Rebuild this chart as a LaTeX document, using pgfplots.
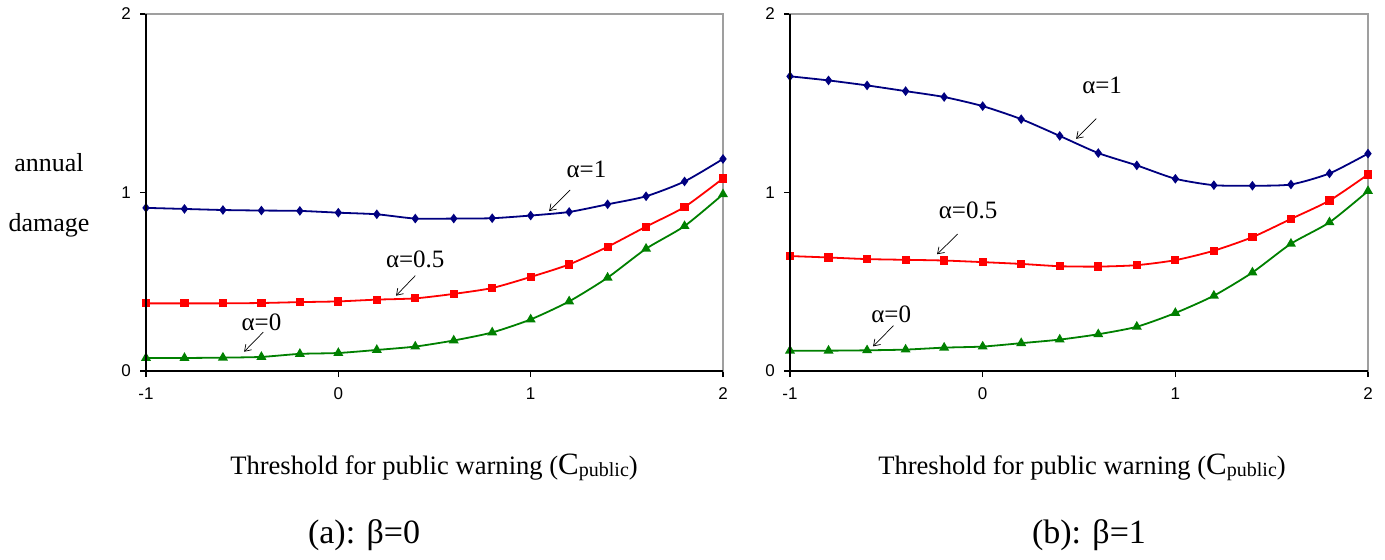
\documentclass[border=0pt]{standalone}
\usepackage{fontspec}
\setmainfont{Liberation Serif}
\newfontfamily\arial{Liberation Sans}
\usepackage{pgfplots}
\pgfplotsset{compat=1.18}
\usetikzlibrary{arrows.meta}

\definecolor{navy}{RGB}{0,0,128}
\definecolor{dgreen}{RGB}{0,128,0}

\pgfplotsset{panel/.style={
    scale only axis, width=288.5pt, height=178.5pt,
    xmin=-1, xmax=2, ymin=0, ymax=2,
    xtick={-1,0,1,2}, ytick={0,1,2},
    tick pos=left, tick align=outside, major tick length=3pt,
    axis line style={gray!75, line width=0.6pt},
    tick style={black, line width=0.6pt},
    ticklabel style={font=\arial\fontsize{8.5}{10}\selectfont},
    xticklabel style={yshift=-2pt},
    yticklabel style={xshift=-1pt},
    /pgf/number format/assume math mode=true,
    clip=false,
    every axis plot/.append style={smooth, tension=0.4, line width=0.9pt},
    after end axis/.code={
      \draw[black, line width=0.7pt] (rel axis cs:0,1) -- (rel axis cs:0,0) -- (rel axis cs:1,0);
    },
  },
  s1/.style={navy, mark=diamond*, mark size=1.7pt, mark options={solid}},
  s2/.style={red, mark=square*, mark size=1.6pt},
  s3/.style={dgreen, mark=triangle*, mark size=2pt},
}
\tikzset{
  ann/.style={font=\fontsize{12.5}{14}\selectfont},
  arr/.style={-{Straight Barb[length=3pt,width=4pt]}, line width=0.35pt},
  xlab/.style={font=\fontsize{13.3}{16}\selectfont},
  captxt/.style={font=\fontsize{17}{20}\selectfont},
}
\newcommand{\cpub}{({\fontsize{15.5}{16}\selectfont C}{\fontsize{10}{12}\selectfont\raisebox{-0.25ex}{public}})}

\begin{document}
\begin{tikzpicture}
\path[use as bounding box] (0,0) rectangle (692.5pt,-279.5pt);

% (a) beta = 0
\begin{axis}[panel, at={(73pt,-185.5pt)}, anchor=south west]
\addplot[s1] coordinates {
  (-1,0.914) (-0.8,0.908) (-0.6,0.902) (-0.4,0.899) (-0.2,0.897) (0,0.887)
  (0.2,0.878) (0.4,0.854) (0.6,0.854) (0.8,0.856) (1.0,0.871) (1.2,0.891)
  (1.4,0.934) (1.6,0.979) (1.8,1.062) (2.0,1.188)
};
\addplot[s2] coordinates {
  (-1,0.379) (-0.8,0.379) (-0.6,0.379) (-0.4,0.381) (-0.2,0.386) (0,0.390)
  (0.2,0.400) (0.4,0.407) (0.6,0.432) (0.8,0.465) (1.0,0.527) (1.2,0.597)
  (1.4,0.696) (1.6,0.809) (1.8,0.919) (2.0,1.079)
};
\addplot[s3] coordinates {
  (-1,0.073) (-0.8,0.073) (-0.6,0.075) (-0.4,0.079) (-0.2,0.096) (0,0.101)
  (0.2,0.118) (0.4,0.137) (0.6,0.171) (0.8,0.216) (1.0,0.289) (1.2,0.390)
  (1.4,0.523) (1.6,0.685) (1.8,0.812) (2.0,0.990)
};
\node[ann] at (axis cs:1.29,1.129) {α=1};
\draw[arr] (axis cs:1.205,1.014) -- (axis cs:1.096,0.896);
\node[ann] at (axis cs:0.40,0.627) {α=0.5};
\draw[arr] (axis cs:0.40,0.534) -- (axis cs:0.30,0.422);
\node[ann] at (axis cs:-0.40,0.272) {α=0};
\draw[arr] (axis cs:-0.39,0.218) -- (axis cs:-0.49,0.108);
\end{axis}

% (b) beta = 1
\begin{axis}[panel, at={(395pt,-185.5pt)}, anchor=south west, width=289pt]
\addplot[s1] coordinates {
  (-1,1.651) (-0.8,1.628) (-0.6,1.600) (-0.4,1.568) (-0.2,1.535) (0,1.484)
  (0.2,1.411) (0.4,1.317) (0.6,1.221) (0.8,1.152) (1.0,1.077) (1.2,1.041)
  (1.4,1.038) (1.6,1.045) (1.8,1.107) (2.0,1.218)
};
\addplot[s2] coordinates {
  (-1,0.644) (-0.8,0.636) (-0.6,0.627) (-0.4,0.623) (-0.2,0.619) (0,0.610)
  (0.2,0.600) (0.4,0.587) (0.6,0.585) (0.8,0.593) (1.0,0.621) (1.2,0.674)
  (1.4,0.750) (1.6,0.852) (1.8,0.955) (2.0,1.101)
};
\addplot[s3] coordinates {
  (-1,0.114) (-0.8,0.114) (-0.6,0.116) (-0.4,0.120) (-0.2,0.131) (0,0.137)
  (0.2,0.156) (0.4,0.176) (0.6,0.206) (0.8,0.248) (1.0,0.325) (1.2,0.422)
  (1.4,0.552) (1.6,0.713) (1.8,0.833) (2.0,1.008)
};
\node[ann] at (axis cs:0.62,1.602) {α=1};
\draw[arr] (axis cs:0.59,1.414) -- (axis cs:0.485,1.301);
\node[ann] at (axis cs:-0.076,0.902) {α=0.5};
\draw[arr] (axis cs:-0.13,0.767) -- (axis cs:-0.237,0.654);
\node[ann] at (axis cs:-0.475,0.317) {α=0};
\draw[arr] (axis cs:-0.463,0.254) -- (axis cs:-0.569,0.138);
\end{axis}

% labels
\node[font=\fontsize{13}{15}\selectfont] at (24.5pt,-81.5pt) {annual};
\node[font=\fontsize{13}{15}\selectfont] at (24.5pt,-112.5pt) {damage};
\node[xlab] at (217pt,-233.5pt) {Threshold for public warning \cpub};
\node[xlab] at (541pt,-233.5pt) {Threshold for public warning \cpub};
\node[captxt] at (182pt,-267.5pt) {(a): β=0};
\node[captxt] at (544.5pt,-267.5pt) {(b): β=1};
\end{tikzpicture}
\end{document}
